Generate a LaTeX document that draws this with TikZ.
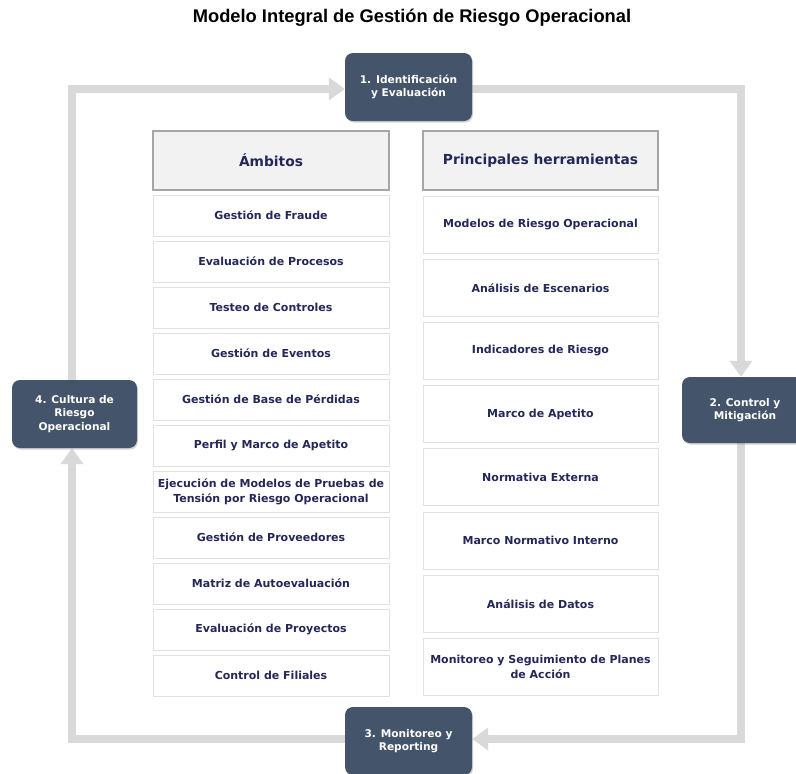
\documentclass[tikz,border=0pt]{standalone}
\usepackage{fontspec}
\setmainfont{DejaVu Sans}
\newfontfamily\titlefont{Liberation Sans}
\usetikzlibrary{arrows.meta,shadows,backgrounds}
\definecolor{slate}{RGB}{68,84,106}
\definecolor{navy}{RGB}{36,40,88}
\definecolor{loopgray}{RGB}{217,217,217}
\definecolor{hdrfill}{RGB}{242,242,242}
\definecolor{hdrline}{RGB}{166,166,166}
\definecolor{itemline}{RGB}{225,225,225}
\begin{document}
\begin{tikzpicture}[x=1pt,y=-1pt,
 stage/.style={fill=slate, rounded corners=8pt, minimum width=126pt, minimum height=67pt, text=white, font=\bfseries\fontsize{10.6}{13.5}\selectfont, align=center, inner sep=0pt, drop shadow={shadow xshift=1pt,shadow yshift=-1.5pt,opacity=0.35}},
 hdr/.style={fill=hdrfill, draw=hdrline, line width=1.2pt, minimum height=59pt, text=navy, font=\bfseries\fontsize{13.8}{16}\selectfont, inner sep=0pt},
 item/.style={fill=white, draw=itemline, line width=0.8pt, text=navy, font=\bfseries\fontsize{11}{15}\selectfont, align=center, inner sep=0pt},
 loopline/.style={draw=loopgray, line width=7.5pt, line join=miter, -{Triangle[width=22pt,length=16pt]}}
]
\useasboundingbox (0,0) rectangle (796,774);

\node[font=\titlefont\bfseries\fontsize{18.3}{21}\selectfont, text=black] (title) at (412,18) {Modelo Integral de Gestión de Riesgo Operacional};

\node[stage, minimum width=127pt, minimum height=68pt] (s1) at (408.5,87) {1. Identificación\\y Evaluación};
\node[stage, minimum width=126pt, minimum height=66pt] (s2) at (745,410) {2. Control y\\Mitigación};
\node[stage, minimum width=127pt, minimum height=68pt] (s3) at (408.5,741) {3. Monitoreo y\\Reporting};
\node[stage, minimum width=125pt, minimum height=68pt] (s4) at (74.5,414) {4. Cultura de\\Riesgo\\Operacional};

\begin{scope}[on background layer]
\fill[white] (0,0) rectangle (796,774);
\draw[loopline] ([xshift=-2.5pt]s4.north) |- ([yshift=-2pt]s1.west);
\draw[loopline] ([yshift=-2pt]s1.east) -| ([xshift=-4pt]s2.north);
\draw[loopline] ([xshift=-4pt]s2.south) |- ([yshift=2pt]s3.east);
\draw[loopline] ([yshift=2pt]s3.west) -| ([xshift=-2.5pt]s4.south);
\end{scope}

% left column
\node[hdr, minimum width=236pt] (h1) at (271,160.5) {Ámbitos};
\foreach \t [count=\i from 0] in {
  Gestión de Fraude,
  Evaluación de Procesos,
  Testeo de Controles,
  Gestión de Eventos,
  Gestión de Base de Pérdidas,
  Perfil y Marco de Apetito,
  {Ejecución de Modelos de Pruebas de\\Tensión por Riesgo Operacional},
  Gestión de Proveedores,
  Matriz de Autoevaluación,
  Evaluación de Proyectos,
  Control de Filiales}
  \node[item, minimum width=236pt, minimum height=41pt] (a\i) at (271,215.5+46*\i) {\t};

% right column
\node[hdr, minimum width=235pt] (h2) at (540.5,160.5) {Principales herramientas};
\foreach \t [count=\i from 0] in {
  Modelos de Riesgo Operacional,
  Análisis de Escenarios,
  Indicadores de Riesgo,
  Marco de Apetito,
  Normativa Externa,
  Marco Normativo Interno,
  Análisis de Datos,
  {Monitoreo y Seguimiento de Planes\\de Acción}}
  \node[item, minimum width=235pt, minimum height=57pt] (b\i) at (540.5,224.5+63.2*\i) {\t};
\end{tikzpicture}
\end{document}
